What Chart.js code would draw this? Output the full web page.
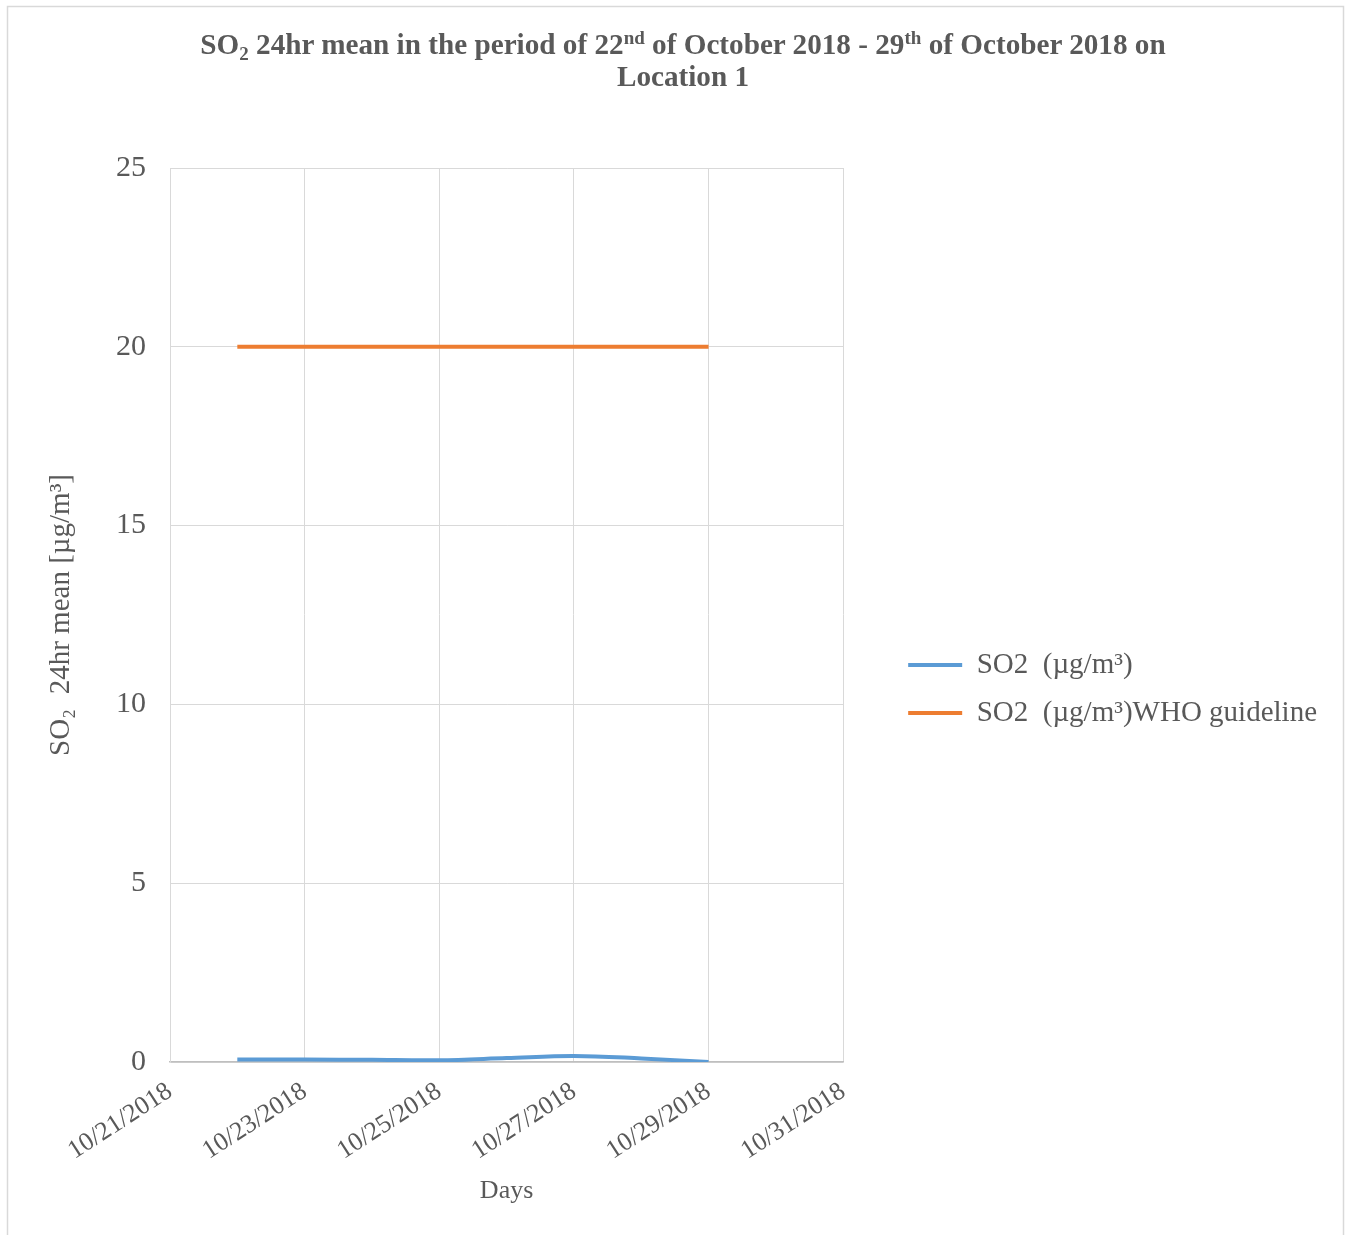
<!DOCTYPE html>
<html>
<head>
<meta charset="utf-8">
<script src="https://cdn.jsdelivr.net/npm/chart.js@4.4.1/dist/chart.umd.min.js"></script>
<style>
  body { margin: 0; background: #fff; }
  #wrap { position: relative; width: 1347px; height: 1235px; }
  #title {
    position: absolute; left: 133px; top: 28px; width: 1100px;
    text-align: center; font: bold 29.2px "Liberation Serif", "Times New Roman", serif;
    line-height: 32px; color: #595959;
  }
  #title sup, #title sub { font-size: 19px; line-height: 0; }
  #title sup { vertical-align: 10px; }
  #title sub { vertical-align: -6px; }
</style>
</head>
<body>
<div id="wrap">
  <canvas id="myChart" width="1347" height="1235"></canvas>
  <div id="title">SO<sub>2</sub> 24hr mean in the period of 22<sup>nd</sup> of October 2018 - 29<sup>th</sup> of October 2018 on<br>Location 1</div>
</div>
<script>
// daily means, 22-29 Oct 2018
const dates = ['10/22/2018', '10/23/2018', '10/24/2018', '10/25/2018', '10/26/2018', '10/27/2018', '10/28/2018', '10/29/2018'];
const so2 = [0.07, 0.07, 0.06, 0.05, 0.11, 0.17, 0.10, 0.00];
const whoGuideline = [20, 20, 20, 20, 20, 20, 20, 20];
const seriesNames = ['SO2  (\u00b5g/m\u00b3)', 'SO2  (\u00b5g/m\u00b3)WHO guideline'];
const yTicks = [0, 5, 10, 15, 20, 25];

// x axis runs in days counted from 10/21/2018
const startDay = Date.UTC(2018, 9, 21);
const axisDays = 10;
function dayOffset(s) {
  const [m, d, y] = s.split('/').map(Number);
  return (Date.UTC(y, m - 1, d) - startDay) / 864e5;
}
function dayLabel(v) {
  const dt = new Date(startDay + v * 864e5);
  return (dt.getUTCMonth() + 1) + '/' + dt.getUTCDate() + '/' + dt.getUTCFullYear();
}

const grey = '#595959';
const serif = '"Liberation Serif", "Times New Roman", serif';

const frame = {
  id: 'frame',
  beforeDraw(chart) {
    const ctx = chart.ctx;
    ctx.save();
    ctx.strokeStyle = '#d9d9d9';
    ctx.lineWidth = 1.5;
    ctx.strokeRect(7.5, 6.5, 1336, 1240);
    ctx.restore();
  }
};

const ctx = document.getElementById('myChart').getContext('2d');
new Chart(ctx, {
  type: 'line',
  data: {
    datasets: [
      {
        label: seriesNames[0],
        data: dates.map((d, i) => ({ x: dayOffset(d), y: so2[i] })),
        borderColor: '#5b9bd5',
        backgroundColor: '#5b9bd5',
        borderWidth: 4,
        pointRadius: 0,
        tension: 0.35
      },
      {
        label: seriesNames[1],
        data: dates.map((d, i) => ({ x: dayOffset(d), y: whoGuideline[i] })),
        borderColor: '#ed7d31',
        backgroundColor: '#ed7d31',
        borderWidth: 4,
        pointRadius: 0
      }
    ]
  },
  options: {
    responsive: false,
    animation: false,
    layout: { padding: { top: 168, right: 20, bottom: 25, left: 0 } },
    scales: {
      x: {
        type: 'linear',
        min: 0,
        max: axisDays,
        grid: { color: '#d9d9d9', drawTicks: false },
        border: { color: '#bfbfbf', width: 1.5 },
        ticks: {
          stepSize: 2,
          minRotation: 33,
          maxRotation: 33,
          padding: 14,
          color: grey,
          font: { family: serif, size: 26 },
          callback: (v) => dayLabel(v)
        },
        title: {
          display: true,
          text: 'Days',
          color: grey,
          font: { family: serif, size: 26 },
          padding: { top: 0, bottom: 3 }
        },
        afterFit: (scale) => { scale.height = 148; }
      },
      y: {
        min: 0,
        max: 25,
        grid: { color: '#d9d9d9', drawTicks: false },
        border: { color: '#d9d9d9' },
        afterBuildTicks: (scale) => { scale.ticks = yTicks.map(v => ({ value: v })); },
        ticks: {
          padding: 24,
          color: grey,
          font: { family: serif, size: 30 }
        },
        title: {
          display: true,
          text: 'SO\u2082  24hr mean [\u00b5g/m\u00b3]',
          color: grey,
          font: { family: serif, size: 29 },
          padding: { top: 44, bottom: 0 }
        },
        afterFit: (scale) => { scale.width = 170; }
      },
      // empty right-hand axis keeps a gap between plot and legend
      gap: {
        position: 'right',
        display: true,
        grid: { display: false },
        border: { display: false },
        ticks: { display: false },
        afterFit: (scale) => { scale.width = 46; }
      }
    },
    plugins: {
      title: { display: false },
      tooltip: { enabled: false },
      legend: {
        position: 'right',
        maxWidth: 560,
        labels: {
          boxWidth: 54,
          boxHeight: 4,
          padding: 19,
          color: grey,
          font: { family: serif, size: 29 },
          generateLabels: (chart) => Chart.defaults.plugins.legend.labels.generateLabels(chart)
            .map(l => ({ ...l, lineWidth: 0, fillStyle: l.strokeStyle }))
        }
      }
    }
  },
  plugins: [frame]
});
</script>
</body>
</html>
